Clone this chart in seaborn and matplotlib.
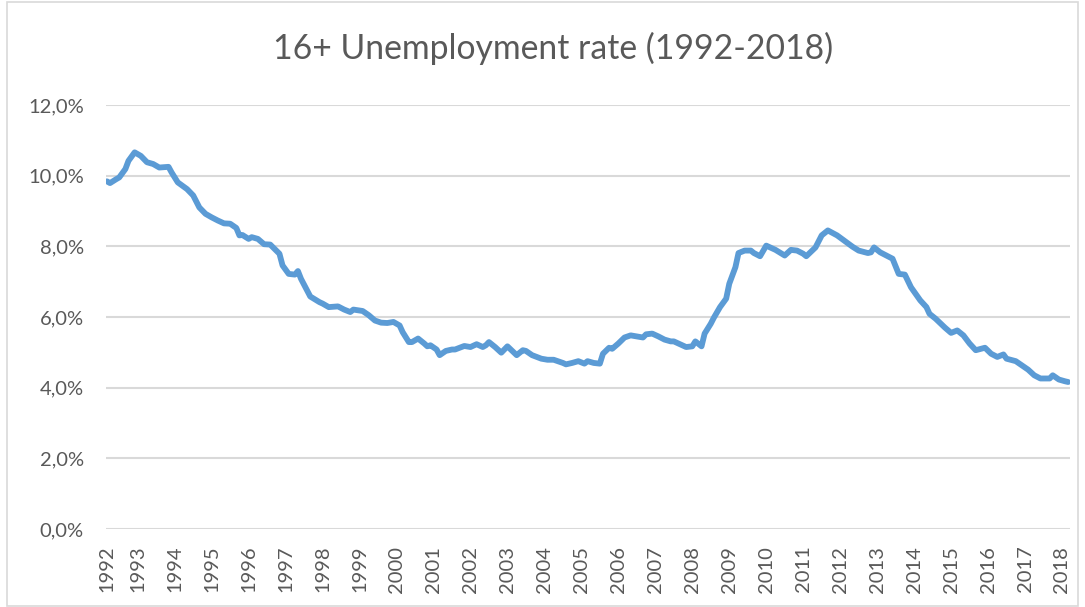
import matplotlib
matplotlib.use("Agg")
import matplotlib.pyplot as plt
import matplotlib.patches as mpatches
import seaborn as sns
import pandas as pd

# ---- data ----
dates = [
    "1992-03", "1992-04", "1992-06", "1992-07", "1992-09", "1992-10", "1992-12",
    "1993-02", "1993-04", "1993-06", "1993-08", "1993-11", "1993-12",
    "1994-02", "1994-05", "1994-07", "1994-09", "1994-11",
    "1995-01", "1995-03", "1995-05", "1995-07", "1995-09", "1995-10", "1995-11",
    "1996-01", "1996-02", "1996-04", "1996-06", "1996-08", "1996-11", "1996-12",
    "1997-02", "1997-04", "1997-05", "1997-06", "1997-08", "1997-09", "1997-12",
    "1998-01", "1998-03", "1998-06", "1998-08", "1998-10", "1998-11",
    "1999-02", "1999-04", "1999-06", "1999-08", "1999-10", "1999-12",
    "2000-02", "2000-03", "2000-05", "2000-06", "2000-08", "2000-10", "2000-11", "2000-12",
    "2001-02", "2001-03", "2001-05", "2001-07", "2001-08", "2001-11",
    "2002-01", "2002-03", "2002-05", "2002-06", "2002-07", "2002-09", "2002-11",
    "2003-01", "2003-04", "2003-06", "2003-07", "2003-09", "2003-12",
    "2004-02", "2004-04", "2004-07", "2004-08", "2004-10", "2004-12",
    "2005-02", "2005-03", "2005-05", "2005-07", "2005-08", "2005-10", "2005-11",
    "2006-01", "2006-03", "2006-05", "2006-07", "2006-09", "2006-10", "2006-12",
    "2007-02", "2007-04", "2007-06", "2007-07", "2007-09", "2007-11",
    "2008-01", "2008-02", "2008-04", "2008-05", "2008-07", "2008-08", "2008-10", "2008-12",
    "2009-01", "2009-03", "2009-04", "2009-06", "2009-08", "2009-09", "2009-11",
    "2010-01", "2010-04", "2010-07", "2010-09", "2010-11",
    "2011-01", "2011-02", "2011-05", "2011-07", "2011-09", "2011-12",
    "2012-03", "2012-05", "2012-07", "2012-10", "2012-11", "2012-12",
    "2013-02", "2013-04", "2013-06", "2013-08", "2013-10", "2013-12",
    "2014-03", "2014-05", "2014-06", "2014-08", "2014-11",
    "2015-01", "2015-03", "2015-05", "2015-07", "2015-09", "2015-12",
    "2016-02", "2016-04", "2016-06", "2016-07", "2016-10", "2016-12",
    "2017-02", "2017-04", "2017-06", "2017-09", "2017-10", "2017-12",
    "2018-02", "2018-03",
]
rate = [
    9.84, 9.79, 9.90, 9.95, 10.19, 10.42, 10.66,
    10.56, 10.38, 10.33, 10.23, 10.25, 10.09,
    9.81, 9.62, 9.44, 9.10, 8.92,
    8.82, 8.73, 8.65, 8.64, 8.52, 8.31, 8.32,
    8.21, 8.26, 8.21, 8.06, 8.05, 7.79, 7.46,
    7.22, 7.20, 7.30, 7.08, 6.75, 6.58, 6.42,
    6.38, 6.28, 6.30, 6.21, 6.14, 6.21,
    6.17, 6.05, 5.90, 5.84, 5.83, 5.86,
    5.76, 5.57, 5.29, 5.29, 5.39, 5.25, 5.17, 5.20,
    5.08, 4.92, 5.04, 5.08, 5.08, 5.18,
    5.15, 5.23, 5.15, 5.20, 5.29, 5.15, 4.99,
    5.17, 4.92, 5.06, 5.04, 4.92, 4.82,
    4.79, 4.79, 4.70, 4.66, 4.70, 4.75,
    4.68, 4.75, 4.70, 4.68, 4.96, 5.13, 5.10,
    5.25, 5.42, 5.48, 5.45, 5.42, 5.51, 5.53,
    5.45, 5.36, 5.31, 5.31, 5.23, 5.15,
    5.17, 5.31, 5.17, 5.53, 5.81, 5.98, 6.28, 6.52,
    6.94, 7.41, 7.81, 7.88, 7.88, 7.81, 7.72,
    8.02, 7.90, 7.74, 7.90, 7.88,
    7.79, 7.72, 7.97, 8.31, 8.45, 8.31,
    8.12, 7.99, 7.88, 7.81, 7.83, 7.97,
    7.83, 7.74, 7.65, 7.22, 7.20, 6.84,
    6.47, 6.28, 6.09, 5.95, 5.70,
    5.55, 5.62, 5.48, 5.25, 5.06, 5.13,
    4.96, 4.87, 4.94, 4.82, 4.75, 4.63,
    4.51, 4.35, 4.26, 4.26, 4.35, 4.23,
    4.18, 4.16,
]
year_labels = [str(y) for y in range(1992, 2019)]
y_ticks = [0, 2, 4, 6, 8, 10, 12]
title = "16+ Unemployment rate (1992-2018)"

# ---- build frame ----
df = pd.DataFrame({"date": pd.to_datetime(dates, format="%Y-%m"), "rate": rate})
start = df["date"].iloc[0]
df["idx"] = (df["date"].dt.year - start.year) * 12 + (df["date"].dt.month - start.month)

# tick positions: first category, then January of each following year
tick_pos = [0] + [(int(y) - start.year) * 12 + (1 - start.month) for y in year_labels[1:]]

sns.set_theme(style="white")
plt.rcParams["font.family"] = ["Lato", "DejaVu Sans"]

text_col = "#595959"
grid_col = "#D9D9D9"

fig = plt.figure(figsize=(10.85, 6.07), dpi=100)
ax = fig.add_axes([106 / 1085, (607 - 529) / 607, (1070 - 106) / 1085, (529 - 105) / 607])

sns.lineplot(data=df, x="idx", y="rate", ax=ax, color="#5B9BD5", linewidth=4.2,
             solid_capstyle="round", solid_joinstyle="round")

ax.set_ylim(0, 12)
ax.set_xlim(-0.3, df["idx"].iloc[-1] + 0.6)
ax.set_yticks(y_ticks)
ax.set_yticklabels([f"{v:.1f}%".replace(".", ",") for v in y_ticks])
ax.set_xticks(tick_pos)
ax.set_xticklabels(year_labels, rotation=90)
ax.tick_params(axis="x", length=0, pad=12, labelsize=14.5, colors=text_col)
ax.tick_params(axis="y", length=0, pad=16, labelsize=14.5, colors=text_col)
for lab in ax.get_xticklabels():
    lab.set_va("top")
ax.yaxis.grid(True, color=grid_col, linewidth=1.5)
ax.xaxis.grid(False)
ax.set_axisbelow(True)
for s in ax.spines.values():
    s.set_visible(False)
ax.set_xlabel("")
ax.set_ylabel("")

fig.text(553 / 1085, 1 - 48 / 607, title, ha="center", va="center",
         fontsize=24.3, color=text_col)

fig.patches.append(mpatches.Rectangle((7 / 1085, 1 / 607), (1078 - 7) / 1085, (605 - 1) / 607,
                                      transform=fig.transFigure, fill=False,
                                      edgecolor=grid_col, linewidth=1.2))

fig.savefig("out.png", dpi=100, facecolor="white")
